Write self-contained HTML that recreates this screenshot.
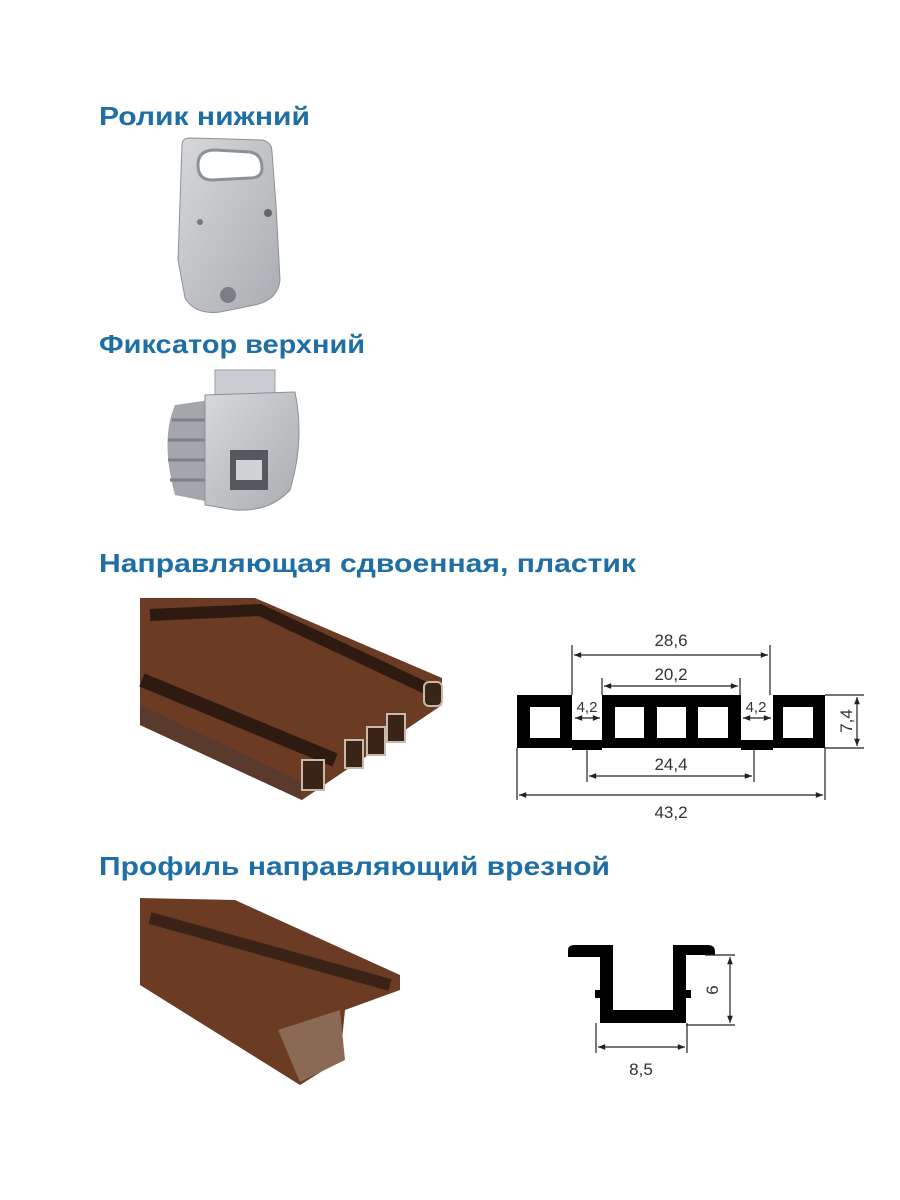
<!DOCTYPE html>
<html><head><meta charset="utf-8"><style>
html,body{margin:0;padding:0;background:#fff;}
svg{display:block}
.t{font-family:"Liberation Sans",sans-serif;font-weight:bold;fill:#1f6ea6;font-size:26px}
.d{font-family:"Liberation Sans",sans-serif;fill:#333;font-size:17px;text-anchor:middle}
</style></head><body>
<svg width="900" height="1200" viewBox="0 0 900 1200" xmlns="http://www.w3.org/2000/svg">
<defs>
<marker id="a" viewBox="0 0 10 10" refX="10" refY="5" markerWidth="8" markerHeight="6" orient="auto-start-reverse"><path d="M0,1 L10,5 L0,9 z" fill="#222"/></marker>
<linearGradient id="g1" x1="0" y1="0" x2="1" y2="1"><stop offset="0" stop-color="#d6d8da"/><stop offset="1" stop-color="#a9adb1"/></linearGradient>
</defs>
<text class="t" x="99" y="125" textLength="211" lengthAdjust="spacingAndGlyphs">Ролик нижний</text>
<text class="t" x="99" y="353" textLength="266" lengthAdjust="spacingAndGlyphs">Фиксатор верхний</text>
<text class="t" x="99" y="572" textLength="537" lengthAdjust="spacingAndGlyphs">Направляющая сдвоенная, пластик</text>
<text class="t" x="99" y="875" textLength="511" lengthAdjust="spacingAndGlyphs">Профиль направляющий врезной</text>

<!-- roller -->
<path d="M182,145 Q182,138 190,138 L262,140 Q272,142 272,152 L276,205 L280,280 Q278,300 255,305 L220,312 Q195,315 185,298 L178,260 Z" fill="url(#g1)" stroke="#8d9196"/>
<path d="M198,165 Q198,150 215,150 L250,152 Q262,154 262,168 Q262,178 250,178 L212,180 Q198,180 198,165Z" fill="#fff" stroke="#8d9196" stroke-width="3"/>
<circle cx="228" cy="295" r="8" fill="#7b7f84"/><circle cx="268" cy="213" r="4" fill="#666"/><circle cx="200" cy="222" r="3" fill="#777"/>
<!-- fixator -->
<path d="M175,405 Q160,440 175,495 L210,502 L210,400 Z" fill="#a3a7ab"/>
<g stroke="#7d8185" stroke-width="3"><line x1="172" y1="420" x2="205" y2="420"/><line x1="168" y1="440" x2="205" y2="440"/><line x1="168" y1="460" x2="205" y2="460"/><line x1="170" y1="480" x2="205" y2="480"/></g>
<rect x="215" y="370" width="60" height="25" fill="#c9ccd0" stroke="#9a9ea2"/>
<path d="M205,395 L295,392 Q305,440 290,490 Q270,512 235,510 L205,505 Z" fill="url(#g1)" stroke="#8d9196"/>
<rect x="230" y="450" width="38" height="40" fill="#55595d"/><rect x="236" y="460" width="26" height="20" fill="#d0d3d6"/>
<!-- rail 1 -->
<polygon points="140,598 255,598 442,678 442,705 302,800 140,725" fill="#6b3b24"/>
<polygon points="140,705 302,782 302,800 140,725" fill="#5a3a2c"/>
<path d="M150,615 L260,610 L430,690" stroke="#2e1a10" stroke-width="12" fill="none"/>
<path d="M142,680 L335,760" stroke="#2e1a10" stroke-width="14" fill="none"/>
<g fill="#3a2418" stroke="#c9b9a8" stroke-width="2"><rect x="302" y="760" width="22" height="30"/><rect x="345" y="740" width="18" height="28"/><rect x="367" y="727" width="18" height="28"/><rect x="387" y="714" width="18" height="28"/><rect x="424" y="682" width="18" height="24" rx="5"/></g>
<!-- rail 2 -->
<polygon points="140,898 235,900 400,975 400,990 345,1010 340,1060 300,1085 140,985" fill="#6b3b24"/>
<path d="M150,918 L390,985" stroke="#3a2216" stroke-width="12" fill="none"/>
<polygon points="278,1030 340,1010 345,1060 300,1082" fill="#8a6a55"/>
<!-- profile 1 -->
<g fill="#000">
<rect x="517" y="695" width="55" height="53"/><rect x="572" y="740" width="30" height="10"/>
<rect x="602" y="695" width="139" height="53"/><rect x="741" y="740" width="32" height="10"/>
<rect x="773" y="695" width="52" height="53"/>
</g>
<g fill="#fff"><rect x="530" y="707" width="30" height="31"/><rect x="615" y="707" width="29" height="31"/><rect x="657" y="707" width="29" height="31"/><rect x="698" y="707" width="30" height="31"/><rect x="783" y="707" width="30" height="31"/></g>
<g stroke="#222" stroke-width="1.2" fill="none">
<line x1="572" y1="645" x2="572" y2="695"/><line x1="770" y1="645" x2="770" y2="695"/>
<line x1="574" y1="655" x2="768" y2="655" marker-start="url(#a)" marker-end="url(#a)"/>
<line x1="602" y1="678" x2="602" y2="695"/><line x1="740" y1="678" x2="740" y2="695"/>
<line x1="604" y1="686" x2="738" y2="686" marker-start="url(#a)" marker-end="url(#a)"/>
<line x1="575" y1="718" x2="600" y2="718" marker-start="url(#a)" marker-end="url(#a)"/>
<line x1="743" y1="718" x2="771" y2="718" marker-start="url(#a)" marker-end="url(#a)"/>
<line x1="587" y1="750" x2="587" y2="782"/><line x1="754" y1="750" x2="754" y2="782"/>
<line x1="589" y1="776" x2="752" y2="776" marker-start="url(#a)" marker-end="url(#a)"/>
<line x1="517" y1="748" x2="517" y2="800"/><line x1="825" y1="748" x2="825" y2="800"/>
<line x1="519" y1="795" x2="823" y2="795" marker-start="url(#a)" marker-end="url(#a)"/>
<line x1="825" y1="695" x2="864" y2="695"/><line x1="825" y1="748" x2="864" y2="748"/>
<line x1="857" y1="697" x2="857" y2="746" marker-start="url(#a)" marker-end="url(#a)"/>
</g>
<text class="d" x="671" y="646">28,6</text><text class="d" x="671" y="680">20,2</text>
<text class="d" x="587" y="712" style="font-size:15px">4,2</text><text class="d" x="756" y="712" style="font-size:15px">4,2</text>
<text class="d" x="671" y="770">24,4</text><text class="d" x="671" y="818">43,2</text>
<text class="d" x="0" y="0" transform="translate(852,721) rotate(-90)">7,4</text>
<!-- profile 2 -->
<path d="M568,957 L568,950 Q568,945 575,945 L613,945 L613,1010 L673,1010 L673,945 L708,945 Q715,945 715,952 L715,955 L686,955 L686,1023 L600,1023 L600,957 Z" fill="#000"/>
<rect x="595" y="990" width="6" height="8"/><rect x="685" y="990" width="6" height="8"/>
<g stroke="#222" stroke-width="1.2" fill="none">
<line x1="705" y1="955" x2="735" y2="955"/><line x1="686" y1="1025" x2="735" y2="1025"/>
<line x1="730" y1="957" x2="730" y2="1023" marker-start="url(#a)" marker-end="url(#a)"/>
<line x1="596" y1="1023" x2="596" y2="1053"/><line x1="687" y1="1023" x2="687" y2="1053"/>
<line x1="598" y1="1047" x2="685" y2="1047" marker-start="url(#a)" marker-end="url(#a)"/>
</g>
<text class="d" x="0" y="0" transform="translate(718,990) rotate(-90)">6</text>
<text class="d" x="641" y="1075">8,5</text>
</svg>
</body></html>
